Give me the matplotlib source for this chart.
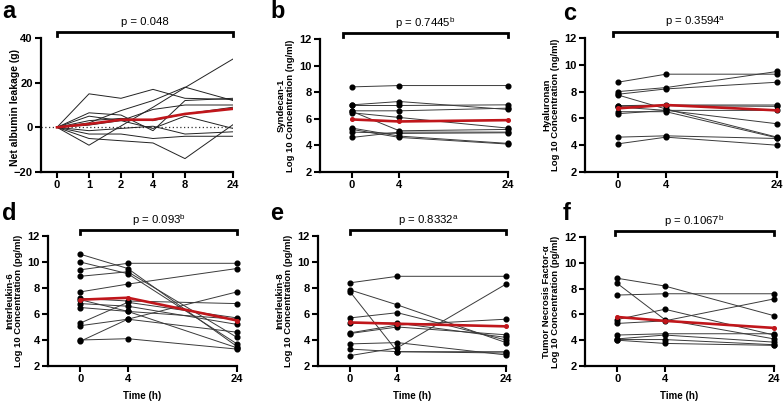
import matplotlib
matplotlib.use("Agg")
import matplotlib.pyplot as plt
import numpy as np

plt.rcParams['font.family'] = ['Liberation Sans', 'DejaVu Sans']
plt.rcParams['mathtext.fontset'] = 'custom'
plt.rcParams['mathtext.rm'] = 'Liberation Sans'
plt.rcParams['mathtext.it'] = 'Liberation Sans'

# ---------------- data ----------------
a_ticks = ['0', '1', '2', '4', '8', '24']
a_lines = [
    [0, 15, 13, 17, 13, 12.5],
    [0, -8, 0.6, 9, 17.8, 30.6],
    [0, 6.5, 5.5, -1.5, 12, 13],
    [0, 2, 7.5, 12, 18, 12],
    [0, 5, 3, 8, 10, 10],
    [0, 3, 4, 3, 6, 9],
    [0, 1, 3, -0.5, 5, -0.5],
    [0, -1.5, -0.5, 0.5, -3, -2],
    [0, -3, -3, -5, -4, -4],
    [0, -5, -6, -7, -14, 1.2],
]
a_mean = [0, 1.5, 3.4, 3.4, 6, 8.3]

t_ticks = ['0', '4', '24']

b_lines = [
    [8.4, 8.5, 8.5],
    [7.05, 7.3, 6.7],
    [7.0, 7.0, 7.05],
    [6.6, 6.6, 6.8],
    [6.55, 5.1, 5.2],
    [6.45, 6.1, 5.3],
    [5.3, 4.7, 4.15],
    [5.2, 4.6, 4.1],
    [5.0, 4.9, 4.95],
    [4.6, 5.0, 5.0],
]
b_mean = [5.95, 5.8, 5.9]

c_lines = [
    [8.7, 9.3, 9.3],
    [8.0, 8.3, 9.5],
    [7.8, 8.2, 8.7],
    [7.75, 6.7, 4.6],
    [6.95, 7.0, 7.0],
    [6.9, 6.95, 6.9],
    [6.85, 6.6, 5.6],
    [6.5, 6.5, 4.55],
    [6.35, 6.6, 6.6],
    [4.6, 4.7, 4.5],
    [4.1, 4.6, 4.0],
]
c_mean = [6.75, 7.0, 6.6]

d_lines = [
    [10.6, 9.5, 3.5],
    [10.0, 9.1, 3.7],
    [9.4, 9.9, 9.9],
    [8.9, 9.25, 4.2],
    [7.7, 8.3, 9.5],
    [7.2, 7.0, 6.8],
    [7.1, 6.2, 5.6],
    [6.8, 6.6, 5.2],
    [6.5, 6.2, 3.4],
    [5.3, 6.9, 5.7],
    [5.1, 5.6, 4.6],
    [4.0, 4.1, 3.3],
    [3.9, 5.6, 7.7],
]
d_mean = [7.1, 7.25, 5.5]

e_lines = [
    [8.4, 8.9, 8.9],
    [7.85, 6.7, 3.8],
    [7.7, 3.1, 3.0],
    [5.7, 6.1, 4.0],
    [5.3, 5.3, 4.2],
    [4.55, 5.15, 5.6],
    [4.5, 5.0, 4.4],
    [3.7, 3.8, 2.85],
    [3.3, 3.1, 3.1],
    [2.8, 3.4, 8.3],
]
e_mean = [5.35, 5.25, 5.05]

f_lines = [
    [8.8, 8.2, 5.9],
    [8.4, 5.6, 4.1],
    [7.5, 7.6, 7.6],
    [5.6, 6.4, 4.4],
    [5.3, 5.5, 7.2],
    [4.4, 4.5, 4.5],
    [4.1, 4.4, 3.85],
    [4.05, 4.05, 3.65],
    [4.0, 3.75, 3.6],
]
f_mean = [5.8, 5.5, 4.95]

# ---------------- layout ----------------
W, H = 783, 401
fig = plt.figure(figsize=(W / 100, H / 100), dpi=100)

def add_ax(l, r, t, b):
    return fig.add_axes([l / W, 1 - b / H, (r - l) / W, (b - t) / H])

RED = '#c0161b'
LC = '#3a3a3a'
TICKFS = 8

def style(ax):
    for s in ['top', 'right']:
        ax.spines[s].set_visible(False)
    for s in ['left', 'bottom']:
        ax.spines[s].set_linewidth(1.6)
    ax.tick_params(width=1.5, length=4, labelsize=TICKFS, pad=2)
    for lab in ax.get_xticklabels() + ax.get_yticklabels():
        lab.set_fontweight('bold')

def bracket(ax, x0, x1, ptext):
    tr = ax.get_xaxis_transform()
    ax.plot([x0, x0, x1, x1], [1.012, 1.048, 1.048, 1.012], color='black',
            lw=2.0, transform=tr, clip_on=False, solid_joinstyle='miter')
    ax.text((x0 + x1) / 2, 1.12, ptext, transform=tr, ha='center', va='center',
            fontsize=8.2)

# panel a
axa = add_ax(41, 233, 38, 172)
xa = [0, 1, 2, 3, 4, 5.5]
for ln in a_lines:
    axa.plot(xa, ln, color='#222222', lw=0.7)
axa.plot(xa, a_mean, color=RED, lw=1.9, zorder=5)
axa.axhline(0, color='#333333', lw=0.9, ls=(0, (1, 2)), zorder=1)
axa.set_xlim(-0.5, 5.5)
axa.set_ylim(-20, 40)
axa.set_yticks([-20, 0, 20, 40])
axa.set_xticks(xa)
axa.set_xticklabels(a_ticks)
axa.set_ylabel('Net albumin leakage (g)', fontsize=7.5, fontweight='bold')
axa.yaxis.set_label_coords(-0.11, 0.48)
style(axa)
bracket(axa, 0, 5.5, 'p = 0.048')

xt = [0, 1, 3.3]

def panel(rect, lines, mean, ylabel, ptext, bx0, xlabel):
    ax = add_ax(*rect)
    for ln in lines:
        ax.plot(xt, ln, color=LC, lw=0.7, marker='o', ms=3.4, mfc='black',
                mec='black', clip_on=False)
    ax.plot(xt, mean, color=RED, lw=1.9, marker='o', ms=2.6, mfc=RED, mec=RED,
            zorder=5, clip_on=False)
    ax.set_xlim(-0.68, 3.3)
    ax.set_ylim(2, 12)
    ax.set_yticks([2, 4, 6, 8, 10, 12])
    ax.set_xticks(xt)
    ax.set_xticklabels(t_ticks)
    ax.set_ylabel(ylabel, fontsize=6.8, fontweight='bold', labelpad=3,
                  linespacing=1.0)
    if xlabel:
        ax.set_xlabel('Time (h)', fontsize=7, fontweight='bold', labelpad=5)
    style(ax)
    bracket(ax, bx0, 3.3, ptext)
    return ax

panel((320, 508, 39, 172), b_lines, b_mean,
      'Syndecan-1\nLog 10 Concentration (ng/ml)', r'p = 0.7445$^{\mathrm{b}}$', -0.2, False)
panel((585, 777, 38, 172), c_lines, c_mean,
      'Hyaluronan\nLog 10 Concentration (ng/ml)', r'p = 0.3594$^{\mathrm{a}}$', -0.1, False)
panel((48, 237, 236, 366), d_lines, d_mean,
      'Interleukin-6\nLog 10 Concentration (pg/ml)', r'p = 0.093$^{\mathrm{b}}$', 0, True)
panel((318, 506, 236, 366), e_lines, e_mean,
      'Interleukin-8\nLog 10 Concentration (pg/ml)', r'p = 0.8332$^{\mathrm{a}}$', 0, True)
panel((585, 774, 237, 366), f_lines, f_mean,
      'Tumor Necrosis Factor-α\nLog 10 Concentration (pg/ml)', r'p = 0.1067$^{\mathrm{b}}$', -0.05, True)

for lab, x, y in [('a', 2, 12), ('b', 270, 12), ('c', 563, 13),
                  ('d', 2, 214), ('e', 270, 213), ('f', 563, 213)]:
    fig.text(x / W, 1 - y / H, lab, fontsize=17, fontweight='bold',
             ha='left', va='center')

fig.savefig('out.png', dpi=100)
